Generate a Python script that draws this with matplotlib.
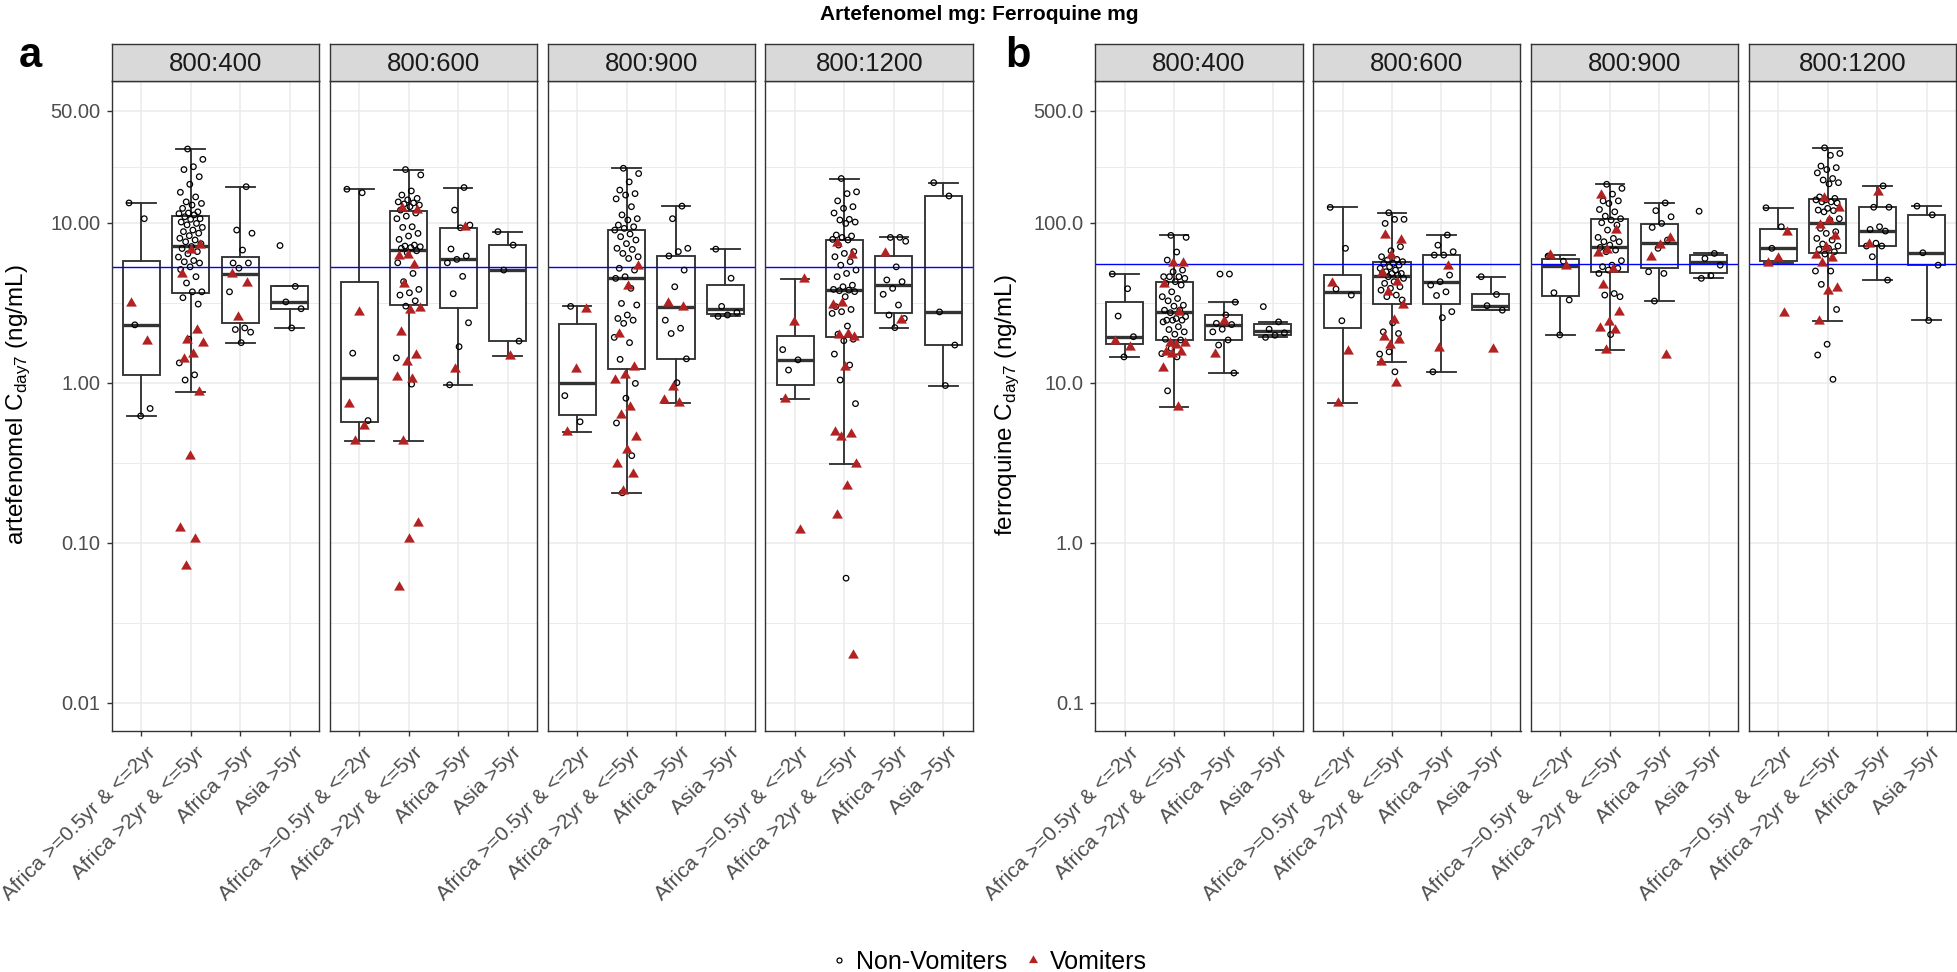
import numpy as np
import matplotlib.pyplot as plt
from matplotlib.lines import Line2D
from matplotlib.transforms import blended_transform_factory, ScaledTranslation

plt.rcParams['font.family'] = ['Liberation Sans', 'DejaVu Sans']

categories = ["Africa >=0.5yr & <=2yr", "Africa >2yr & <=5yr", "Africa >5yr", "Asia >5yr"]
doses = ["800:400", "800:600", "800:900", "800:1200"]

# artefenomel Cday7 (ng/mL), one list per age/region group
a400_non = [
    [13.3, 10.6, 2.3, 0.69, 0.62],
    [28.9, 24.9, 22.4, 21.5, 19.4, 17.4, 15.5, 14.5, 13.5, 13.2, 12.9, 12.3, 11.7, 11.5, 11.4, 11.2,
     10.9, 10.6, 10.5, 10.1, 9.9, 9.7, 9.35, 9.0, 8.8, 8.6, 8.3, 8.0, 7.8, 7.6, 7.4, 7.1, 6.9, 6.6,
     6.4, 6.1, 5.8, 5.7, 5.6, 5.3, 5.1, 4.6, 4.2, 3.7, 3.7, 3.4, 3.1, 1.87, 1.33, 1.12, 1.04],
    [16.8, 9.0, 8.6, 6.75, 5.6, 5.6, 5.2, 3.7, 2.2, 2.15, 2.07, 1.78],
    [7.2, 4.0, 3.2, 2.9, 2.2],
]
a400_vom = [
    [3.16, 1.83],
    [7.25, 6.75, 4.77, 2.13, 1.85, 1.76, 1.51, 1.41, 0.87, 0.35, 0.123, 0.105, 0.071],
    [4.8, 4.2, 2.56],
    [],
]
a600_non = [
    [16.2, 15.4, 1.53, 0.58],
    [21.5, 19.9, 15.8, 14.9, 14.2, 13.9, 13.5, 13.3, 13.1, 12.9, 12.6, 12.0, 11.5, 11.0, 10.6, 9.44,
     9.35, 8.58, 8.26, 7.87, 7.25, 7.15, 7.08, 7.0, 6.92, 6.68, 6.49, 5.62, 4.82, 4.28, 3.83, 3.65,
     3.53, 3.25, 3.01, 1.43, 0.98],
    [16.6, 12.0, 9.67, 9.3, 6.85, 6.2, 5.9, 5.62, 4.62, 3.6, 2.37, 1.68, 0.97],
    [8.8, 7.25, 5.06, 1.82],
]
a600_vom = [
    [2.78, 0.74, 0.54, 0.43],
    [12.3, 12.0, 6.28, 6.19, 5.43, 4.14, 2.92, 2.85, 2.08, 1.48, 1.35, 1.09, 1.06, 0.43, 0.133,
     0.105, 0.053],
    [9.35, 1.21],
    [1.47],
]
a900_non = [
    [0.83, 0.57, 3.0],
    [21.9, 20.3, 18.0, 16.0, 15.2, 14.9, 14.1, 12.6, 11.2, 10.6, 10.4, 9.67, 9.44, 9.22, 9.0, 8.5,
     8.18, 7.8, 7.4, 6.92, 6.81, 6.43, 6.13, 5.98, 5.19, 5.06, 4.6, 4.49, 3.89, 3.13, 3.06, 2.65,
     2.52, 2.46, 2.35, 1.92, 1.78, 1.4, 0.99, 0.8, 0.56, 0.35, 0.205],
    [12.7, 10.6, 6.92, 6.6, 6.2, 5.06, 3.98, 2.46, 2.19, 2.03, 1.41, 1.0],
    [6.84, 4.5, 3.0, 2.75, 2.65, 2.6],
]
a900_vom = [
    [2.9, 1.21, 0.49],
    [5.36, 4.02, 2.01, 1.26, 1.12, 1.04, 0.71, 0.63, 0.46, 0.38, 0.31, 0.27, 0.21],
    [3.13, 2.99, 0.94, 0.78, 0.75],
    [],
]
a1200_non = [
    [1.61, 1.39, 1.2],
    [18.9, 15.6, 15.2, 13.7, 12.6, 12.3, 11.5, 10.5, 10.4, 10.1, 9.9, 8.38, 8.26, 8.09, 7.87, 7.8,
     7.25, 6.6, 6.43, 6.13, 5.71, 5.43, 5.06, 4.82, 4.6, 4.07, 3.98, 3.83, 3.79, 3.76, 3.71, 3.45,
     2.99, 2.87, 2.78, 2.71, 2.26, 2.01, 1.87, 1.83, 1.51, 1.29, 1.04, 0.74, 0.06],
    [8.1, 8.09, 7.66, 5.3, 4.39, 4.28, 3.89, 3.57, 3.06, 2.65, 2.52, 2.21],
    [17.8, 14.7, 2.77, 1.72, 0.96],
]
a1200_vom = [
    [4.43, 2.4, 0.79, 0.12],
    [7.43, 6.28, 3.13, 3.06, 2.03, 1.99, 1.94, 1.25, 0.49, 0.48, 0.46, 0.31, 0.226, 0.15, 0.02],
    [6.49, 2.46],
    [],
]

# ferroquine Cday7 (ng/mL)
b400_non = [
    [47.8, 38.7, 26.1, 19.4, 14.5],
    [83.4, 81.0, 65.6, 58.4, 50.6, 49.4, 46.0, 46.0, 46.0, 44.9, 42.8, 41.8, 40.8, 37.0, 34.5, 33.6,
     32.5, 30.5, 30.1, 28.4, 28.4, 27.4, 25.9, 25.2, 24.6, 24.6, 24.6, 24.0, 22.4, 21.5, 20.8, 20.1,
     18.7, 18.5, 16.4, 15.2, 14.5, 8.9],
    [47.8, 47.8, 31.9, 26.5, 23.5, 23.1, 21.6, 20.8, 18.5, 17.2, 11.5],
    [29.9, 24.0, 21.6, 20.5, 19.8, 19.2],
]
b400_vom = [
    [18.3, 16.8],
    [55.7, 55.7, 41.4, 27.8, 17.6, 17.6, 17.2, 15.6, 15.6, 15.2, 12.3, 7.08],
    [24.4, 15.2],
    [],
]
b600_non = [
    [124.7, 69.2, 38.5, 35.3, 24.4],
    [115.5, 105, 105, 99, 70.8, 66.8, 61.3, 59, 58.4, 57.1, 55.7, 55.7, 54.3, 53.1, 51.9, 50.6,
     49.4, 48.2, 48.2, 48.2, 47.1, 46.0, 44.9, 42.8, 41.8, 39.8, 38.9, 37.9, 35.3, 34.5, 32.9, 23.7,
     20.8, 20.3, 15.6, 15.1, 11.7],
    [83.8, 72.4, 65.9, 62.8, 62.8, 47.1, 42.8, 40.8, 37.0, 35.1, 27.8, 25.5, 11.7],
    [46.0, 35.6, 30.3, 28.4],
]
b600_vom = [
    [41.8, 15.8, 7.43],
    [83.8, 77.9, 62.8, 48.2, 42.8, 37.0, 30.5, 24.6, 19.4, 18.5, 17.2, 13.5, 10.0],
    [53.7, 16.4],
    [16.2],
]
b900_non = [
    [61.9, 57.5, 36.5, 32.9, 19.9],
    [174, 164, 151, 137, 137, 132, 121, 117, 110, 106, 104, 100, 96.7, 90, 81, 79.8, 76.1, 76.1,
     72.5, 70.1, 67.5, 65.9, 57.9, 54.3, 53.1, 51.9, 50.6, 48.2, 36.1, 35.3, 34.5, 20.0],
    [133, 119, 109, 99, 93.5, 77.9, 69.2, 49.4, 48.2, 32.4],
    [118, 64.3, 59.8, 54.3, 46.7, 44.9],
]
b900_vom = [
    [62.8, 53.6],
    [149, 90, 67.5, 64.9, 51.1, 40.8, 27.8, 24.0, 21.9, 21.3, 16.0],
    [79.8, 72.5, 61.3, 14.9],
    [],
]
b1200_non = [
    [124, 94.4, 69.2],
    [294, 271, 264, 226, 221, 215, 205, 189, 185, 178, 175, 145, 142, 139, 139, 135, 135, 133, 123,
     120, 119, 117, 106, 104, 92.2, 87.9, 85.8, 79.8, 77.9, 73.6, 71.5, 69.2, 68.1, 65.9, 63.7, 49.9,
     49.9, 41.2, 28.7, 17.4, 14.9, 10.5],
    [170, 125, 125, 94.4, 90.8, 88.7, 74.5, 71.5, 71.5, 61.3, 43.8],
    [127, 112, 64.9, 54.3, 24.5],
]
b1200_vom = [
    [87.9, 59.8, 55.7, 27.4],
    [142, 123, 104, 96.7, 82.6, 70.8, 62.8, 59.8, 55.7, 38.9, 37.6, 24.4],
    [156, 73.2],
    [],
]

a_target = 5.3
b_target = 55
a_breaks = [50, 10, 1, 0.1, 0.01]
a_labels = ["50.00", "10.00", "1.00", "0.10", "0.01"]
b_breaks = [500, 100, 10, 1, 0.1]
b_labels = ["500.0", "100.0", "10.0", "1.0", "0.1"]

W, H = 1958, 972
fig = plt.figure(figsize=(W / 100, H / 100), dpi=100)

def rect(left, top, w, h):
    return [left / W, 1 - (top + h) / H, w / W, h / H]

facet_w = 207.6
gap = 10.3
plot_top, plot_bot = 81, 730.5
strip_top = 44
grid_col = '#EBEBEB'
dark = '#333333'
tick_col = '#4D4D4D'
vom_col = '#B22222'
# equilateral triangle like ggplot shape 17
tri = [(-0.866, -0.5), (0.866, -0.5), (0.0, 1.0), (-0.866, -0.5)]


def draw_facet(ax, non, vom, ylim, target, breaks, labels, first):
    ax.set_xlim(0.4, 4.6)
    ax.set_ylim(*ylim)
    lb = np.log10(breaks)
    for y in lb:
        ax.axhline(y, color=grid_col, lw=1.1, zorder=0)
    for y0, y1 in zip(lb[:-1], lb[1:]):
        ax.axhline((y0 + y1) / 2, color=grid_col, lw=0.7, zorder=0)
    for x in range(1, 5):
        ax.axvline(x, color=grid_col, lw=1.1, zorder=0)

    stats = []
    for i in range(4):
        vals = np.log10(np.array(non[i] + vom[i]))
        q1, med, q3 = np.percentile(vals, [25, 50, 75])
        iqr = q3 - q1
        lo = vals[vals >= q1 - 1.5 * iqr].min()
        hi = vals[vals <= q3 + 1.5 * iqr].max()
        stats.append(dict(med=med, q1=q1, q3=q3, whislo=lo, whishi=hi, fliers=[]))
    ax.bxp(stats, positions=range(1, 5), widths=0.75, capwidths=0.58, patch_artist=True,
           showfliers=False, zorder=2,
           boxprops=dict(facecolor='white', edgecolor=dark, lw=1.35),
           whiskerprops=dict(color=dark, lw=1.35),
           capprops=dict(color=dark, lw=1.35),
           medianprops=dict(color=dark, lw=2.4))
    ax.axhline(np.log10(target), color='blue', lw=1.0, zorder=2.5)

    # jittered points
    for i in range(4):
        n_all = len(non[i]) + len(vom[i])
        offs = [((k * 0.618034 + 0.37 * i) % 1 - 0.5) * 0.5 for k in range(n_all)]
        xs_non = [i + 1 + offs[k] for k in range(len(non[i]))]
        xs_vom = [i + 1 + offs[len(non[i]) + k] for k in range(len(vom[i]))]
        if non[i]:
            ax.scatter(xs_non, np.log10(non[i]), s=16, facecolors='none', edgecolors='black',
                       linewidths=0.9, zorder=3)
        if vom[i]:
            ax.scatter(xs_vom, np.log10(vom[i]), s=80, marker=tri, color=vom_col,
                       linewidths=0, zorder=3)

    for sp in ax.spines.values():
        sp.set_color(dark)
        sp.set_linewidth(1.0)
    ax.set_xticks(range(1, 5))
    ax.set_xticklabels([])
    lab_tr = blended_transform_factory(ax.transData, ax.transAxes) + \
        ScaledTranslation(4 / 100, -12.5 / 100, fig.dpi_scale_trans)
    for i, c in enumerate(categories):
        ax.text(i + 1, 0, c, transform=lab_tr, rotation=45, ha='right', va='top',
                rotation_mode='anchor', fontsize=15, color=tick_col)
    if first:
        ax.set_yticks(lb)
        ax.set_yticklabels(labels, fontsize=14.5, color=tick_col)
    else:
        ax.set_yticks([])
    ax.tick_params(length=3.6, width=1.0, color=dark, pad=4.5)


panels = [
    (111.7, [(a400_non, a400_vom), (a600_non, a600_vom), (a900_non, a900_vom), (a1200_non, a1200_vom)],
     (-2.174, 1.886), a_target, a_breaks, a_labels),
    (1095.0, [(b400_non, b400_vom), (b600_non, b600_vom), (b900_non, b900_vom), (b1200_non, b1200_vom)],
     (-1.174, 2.886), b_target, b_breaks, b_labels),
]

for left, facets, ylim, target, breaks, labels in panels:
    for j, (non, vom) in enumerate(facets):
        x0 = left + j * (facet_w + gap)
        ax = fig.add_axes(rect(x0, plot_top, facet_w, plot_bot - plot_top))
        draw_facet(ax, non, vom, ylim, target, breaks, labels, j == 0)
        sax = fig.add_axes(rect(x0, strip_top, facet_w, plot_top - strip_top))
        sax.set_facecolor('#D9D9D9')
        sax.set_xticks([])
        sax.set_yticks([])
        for sp in sax.spines.values():
            sp.set_color(dark)
            sp.set_linewidth(1.0)
        sax.text(0.5, 0.47, doses[j], ha='center', va='center', fontsize=18.5,
                 color='#1A1A1A', transform=sax.transAxes)

fig.text(0.5, 1 - 15 / H, "Artefenomel mg: Ferroquine mg", ha='center', va='center',
         fontsize=15, weight='bold')
fig.text(30 / W, 1 - 56 / H, "a", ha='center', va='center', fontsize=30, weight='bold')
fig.text(1018 / W, 1 - 56 / H, "b", ha='center', va='center', fontsize=30, weight='bold')
fig.text(18 / W, 1 - 405 / H, "artefenomel C$_{\\mathregular{day7}}$ (ng/mL)", rotation=90,
         ha='center', va='center', fontsize=17.5)
fig.text(1007 / W, 1 - 405 / H, "ferroquine C$_{\\mathregular{day7}}$ (ng/mL)", rotation=90,
         ha='center', va='center', fontsize=17.5)

handles = [
    Line2D([], [], marker='o', ls='', mfc='none', mec='black', ms=3.6, mew=0.9, label='Non-Vomiters'),
    Line2D([], [], marker=tri, ls='', color=vom_col, ms=7.5, mew=0, label='Vomiters'),
]
fig.legend(handles=handles, loc='center', bbox_to_anchor=(988 / W, 1 - 962 / H), ncol=2,
           frameon=False, fontsize=18, handlelength=0.8, handletextpad=0.3, columnspacing=0.6)

fig.savefig("out.png", dpi=100)
